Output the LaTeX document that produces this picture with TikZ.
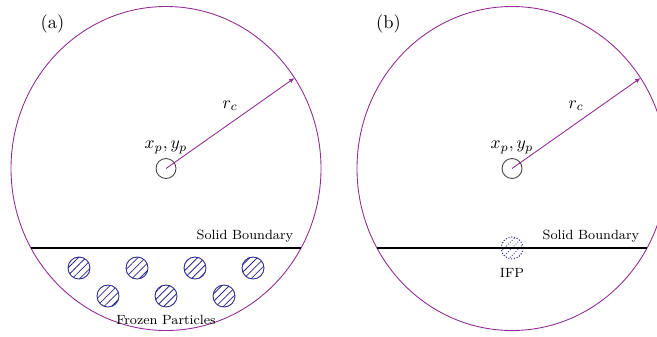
\documentclass[tikz,border=0pt]{standalone}
\usetikzlibrary{arrows.meta,positioning,patterns.meta}
\definecolor{cutpurple}{RGB}{145,45,145}
\definecolor{frozenblue}{RGB}{40,40,140}
\definecolor{ifpblue}{RGB}{55,55,190}
\tikzset{
    cutoff/.style={cutpurple,line width=0.5pt},
    radius arrow/.style={cutpurple,line width=0.5pt,-{Latex[length=3pt,width=2.6pt]}},
    probe/.style={circle,draw=black!75,line width=0.5pt,minimum size=0.4cm,inner sep=0pt},
    frozen/.style={circle,draw=frozenblue,line width=0.5pt,minimum size=0.44cm,inner sep=0pt,
        pattern={Lines[angle=45,distance=3pt,line width=0.45pt]},pattern color=frozenblue},
    small label/.style={font=\fontsize{7.6}{9}\selectfont},
    panel label/.style={font=\fontsize{10.5}{12}\selectfont}
}
\begin{document}
\begin{tikzpicture}
        \useasboundingbox (0,0) rectangle (13.14,6.72);
        \clip (0,0) rectangle (13.14,6.72);

        % (a) cut-off region with frozen particles
        \node[panel label] (labA) at (1.05,6.24) {(a)};
        \draw[cutoff] (3.32,3.35) ellipse [x radius=3.1, y radius=3.24];
        \node[probe] (pA) at (3.32,3.35) {};
        \node[above=-1pt of pA] (xyA) {$x_p, y_p$};
        \coordinate (rA) at (5.89,5.16);
        \draw[radius arrow] (pA.center) -- (rA) node[midway,above=3.5pt,text=black] (rcA) {$r_c$};

        % solid boundary
        \coordinate (bA1) at (0.62,1.76);
        \coordinate (bA2) at (6.02,1.76);
        \draw[line width=0.6pt] (bA1) -- (bA2);
        \node[small label,above left=0pt and 1pt of bA2] (sbA) {Solid Boundary};

        % frozen particles below the wall
        \foreach \x [count=\i] in {1.58,2.74,3.90,5.06}
            \node[frozen] (fz\i) at (\x,1.36) {};
        \foreach \x [count=\i from 5] in {2.16,3.32,4.48}
            \node[frozen] (fz\i) at (\x,0.80) {};
        \node[small label,below=1pt of fz6] (fzlabel) {Frozen Particles};

        % (b) cut-off region with one image particle
        \node[panel label] (labB) at (7.77,6.24) {(b)};
        \draw[cutoff] (10.24,3.35) ellipse [x radius=3.1, y radius=3.24];
        \node[probe] (pB) at (10.24,3.35) {};
        \node[above=-1pt of pB] (xyB) {$x_p, y_p$};
        \coordinate (rB) at (12.81,5.16);
        \draw[radius arrow] (pB.center) -- (rB) node[midway,above=3.5pt,text=black] (rcB) {$r_c$};

        % IFP on the wall
        \node[circle,draw=ifpblue,densely dotted,line width=0.6pt,minimum size=0.44cm,inner sep=0pt] (ifp) at (10.24,1.76) {};
        \begin{scope}[shift={(ifp.center)}]
            \clip (0,0) circle (0.22);
            \foreach \d in {-0.3,-0.15,0,0.15,0.3}
                \draw[ifpblue,densely dotted,line width=0.5pt] ({\d-0.3},-0.3) -- ++(0.6,0.6);
        \end{scope}
        \node[small label,below=1.5pt of ifp] (ifplabel) {IFP};

        \coordinate (bB1) at (7.54,1.76);
        \coordinate (bB2) at (12.94,1.76);
        \draw[line width=0.6pt] (bB1) -- (bB2);
        \node[small label,above left=0pt and 1pt of bB2] (sbB) {Solid Boundary};
    \end{tikzpicture}
\end{document}
